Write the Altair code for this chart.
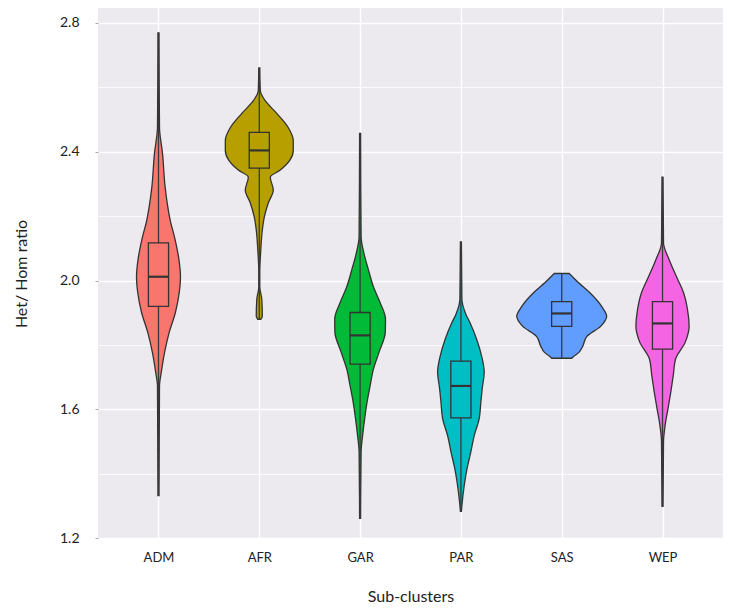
import altair as alt
import pandas as pd

categories = ["ADM", "AFR", "GAR", "PAR", "SAS", "WEP"]
colors = ["#F8766D", "#B79F00", "#00BA38", "#00BFC4", "#619CFF", "#F564E3"]

# violin profiles: value and half-width (in category units)
adm_vals = [2.769, 2.475, 2.395, 2.290, 2.188, 2.127, 2.065, 2.012, 1.963, 1.901, 1.840, 1.778, 1.716, 1.673, 1.333]
adm_hw = [0.005, 0.010, 0.040, 0.066, 0.116, 0.165, 0.203, 0.218, 0.206, 0.168, 0.107, 0.061, 0.028, 0.010, 0.005]
afr_vals = [2.660, 2.590, 2.559, 2.519, 2.475, 2.435, 2.404, 2.373, 2.343, 2.321, 2.281, 2.241, 2.198, 2.157, 2.096, 2.025, 1.981, 1.941, 1.889, 1.880]
afr_hw = [0.005, 0.010, 0.057, 0.173, 0.287, 0.337, 0.337, 0.302, 0.208, 0.109, 0.139, 0.089, 0.050, 0.030, 0.015, 0.005, 0.005, 0.025, 0.030, 0.015]
gar_vals = [2.457, 2.136, 2.086, 2.034, 1.981, 1.932, 1.880, 1.840, 1.778, 1.725, 1.673, 1.623, 1.571, 1.519, 1.469, 1.262]
gar_hw = [0.005, 0.010, 0.037, 0.082, 0.132, 0.198, 0.252, 0.250, 0.188, 0.132, 0.099, 0.069, 0.045, 0.025, 0.010, 0.005]
par_vals = [2.120, 1.941, 1.895, 1.870, 1.818, 1.765, 1.716, 1.664, 1.623, 1.571, 1.519, 1.469, 1.417, 1.364, 1.302, 1.284]
par_hw = [0.005, 0.010, 0.050, 0.089, 0.156, 0.206, 0.231, 0.211, 0.198, 0.181, 0.132, 0.099, 0.061, 0.033, 0.010, 0.005]
sas_vals = [2.022, 1.994, 1.963, 1.920, 1.889, 1.858, 1.827, 1.796, 1.778, 1.765, 1.759]
sas_hw = [0.074, 0.165, 0.277, 0.396, 0.446, 0.386, 0.250, 0.208, 0.173, 0.120, 0.100]
wep_vals = [2.321, 2.117, 2.065, 2.012, 1.963, 1.910, 1.858, 1.809, 1.756, 1.704, 1.654, 1.602, 1.549, 1.500, 1.299]
wep_hw = [0.005, 0.010, 0.066, 0.139, 0.208, 0.248, 0.264, 0.226, 0.129, 0.106, 0.082, 0.054, 0.025, 0.010, 0.005]

# box plot statistics
q1 = [1.920, 2.349, 1.741, 1.574, 1.858, 1.787]
median = [2.012, 2.404, 1.830, 1.673, 1.898, 1.867]
q3 = [2.117, 2.460, 1.901, 1.750, 1.935, 1.935]
vmin = [1.333, 1.880, 1.262, 1.284, 1.759, 1.299]
vmax = [2.769, 2.660, 2.457, 2.120, 2.022, 2.321]

profiles = [(adm_vals, adm_hw), (afr_vals, afr_hw), (gar_vals, gar_hw),
            (par_vals, par_hw), (sas_vals, sas_hw), (wep_vals, wep_hw)]

rows = []
for i, (cat, (vals, hws)) in enumerate(zip(categories, profiles)):
    pos = i + 1
    for v, h in zip(vals, hws):
        rows.append({"cat": cat, "value": v, "left": pos - h, "right": pos + h})
violin_df = pd.DataFrame(rows).sort_values(["cat", "value"])

BOX_HALF = 0.1
box_df = pd.DataFrame({
    "cat": categories,
    "pos": list(range(1, 7)),
    "q1": q1, "median": median, "q3": q3, "vmin": vmin, "vmax": vmax,
})
box_df["bl"] = box_df["pos"] - BOX_HALF
box_df["br"] = box_df["pos"] + BOX_HALF

label_expr = ("['', 'ADM', 'AFR', 'GAR', 'PAR', 'SAS', 'WEP'][round(datum.value)]")

xscale = alt.Scale(domain=[0.4, 6.6], nice=False, zero=False)
yscale = alt.Scale(domain=[1.198, 2.846], nice=False, zero=False)
color = alt.Color("cat:N", scale=alt.Scale(domain=categories, range=colors), legend=None)

xaxis = alt.Axis(values=[1, 2, 3, 4, 5, 6], labelExpr=label_expr, title="Sub-clusters",
                 grid=True, gridColor="white", gridWidth=1.4, domain=False,
                 ticks=False, labelPadding=12, labelFontSize=13, labelColor="#222",
                 titleFontSize=16, titleFontWeight="normal", titleColor="#222",
                 titlePadding=24)
yaxis = alt.Axis(values=[1.2, 1.4, 1.6, 1.8, 2.0, 2.2, 2.4, 2.6, 2.8],
                 labelExpr="round(datum.value*10) % 4 == 0 ? format(datum.value, '.1f') : ''",
                 title="Het/ Hom ratio", grid=True, gridColor="white",
                 gridWidth={"condition": {"test": "round(datum.value*10) % 4 == 0", "value": 1.5}, "value": 0.8},
                 domain=False, tickSize=3, tickColor="#aaaaaa",
                 tickOpacity={"condition": {"test": "round(datum.value*10) % 4 == 0", "value": 1}, "value": 0},
                 labelPadding=16, labelFontSize=14, labelColor="#222",
                 titleFontSize=16, titleFontWeight="normal", titleColor="#222",
                 titlePadding=30)

violins = alt.Chart(violin_df).mark_area(
    orient="horizontal", interpolate="monotone", stroke="#333333", strokeWidth=1.3, opacity=1
).encode(
    y=alt.Y("value:Q", scale=yscale, axis=yaxis),
    x=alt.X("left:Q", scale=xscale, axis=xaxis, stack=None),
    x2="right:Q",
    color=color,
    detail="cat:N",
)

whiskers = alt.Chart(box_df).mark_rule(color="#3a3a3a", strokeWidth=1.3).encode(
    x=alt.X("pos:Q", scale=xscale),
    y=alt.Y("vmin:Q", scale=yscale),
    y2="vmax:Q",
)

boxes = alt.Chart(box_df).mark_rect(stroke="#333333", strokeWidth=1.3).encode(
    x=alt.X("bl:Q", scale=xscale),
    x2="br:Q",
    y=alt.Y("q1:Q", scale=yscale),
    y2="q3:Q",
    color=color,
)

medians = alt.Chart(box_df).mark_rule(color="#333333", strokeWidth=2.2).encode(
    x=alt.X("bl:Q", scale=xscale),
    x2="br:Q",
    y=alt.Y("median:Q", scale=yscale),
)

chart = alt.layer(violins, whiskers, boxes, medians).properties(
    width=625, height=531,
    autosize=alt.AutoSizeParams(type="none"),
    padding={"left": 90, "top": 0, "right": 0, "bottom": 64},
).configure_view(
    fill="#EDEAEF", stroke=None
).configure_axis(
    labelFont="Lato", titleFont="Lato"
)

chart.save("out.html", embed_options={"renderer": "svg", "actions": False})
